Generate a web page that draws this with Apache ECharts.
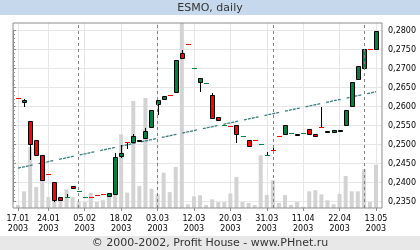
<!DOCTYPE html>
<html><head><meta charset="utf-8">
<script src="https://cdn.jsdelivr.net/npm/echarts@6/dist/echarts.min.js"></script>
<style>html,body{margin:0;padding:0;background:#fff}#c{width:420px;height:250px}</style>
</head><body><div id="c"></div>
<script>
// ---- data ----
const dates = ['17.01.2003','20.01.2003','21.01.2003','22.01.2003','23.01.2003','24.01.2003','27.01.2003','28.01.2003','29.01.2003','30.01.2003',
 '03.02.2003','05.02.2003','06.02.2003','07.02.2003','10.02.2003','12.02.2003','14.02.2003','18.02.2003','19.02.2003','20.02.2003',
 '24.02.2003','26.02.2003','28.02.2003','03.03.2003','04.03.2003','05.03.2003','06.03.2003','07.03.2003','11.03.2003','12.03.2003',
 '13.03.2003','14.03.2003','17.03.2003','18.03.2003','19.03.2003','20.03.2003','21.03.2003','24.03.2003','25.03.2003','26.03.2003',
 '27.03.2003','31.03.2003','01.04.2003','02.04.2003','03.04.2003','07.04.2003','09.04.2003','11.04.2003','14.04.2003','15.04.2003',
 '16.04.2003','17.04.2003','21.04.2003','22.04.2003','24.04.2003','28.04.2003','30.04.2003','06.05.2003','08.05.2003','13.05.2003'];
const opens  = [0.2622,0.2611,0.2562,0.2512,0.2472,0.2422,0.2401,0.2362,0.2361,0.2391,
 0.2377,0.2362,0.2362,0.2366,0.2369,0.2365,0.2371,0.2471,0.2506,0.2506,
 0.2511,0.2517,0.2545,0.2606,0.2621,0.2630,0.2639,0.2741,0.2766,0.2701,
 0.2665,0.2661,0.2630,0.2572,0.2551,0.2550,0.2551,0.2522,0.2512,0.2511,
 0.2501,0.2472,0.2485,0.2522,0.2529,0.2530,0.2528,0.2530,0.2540,0.2527,
 0.2545,0.2535,0.2532,0.2538,0.2551,0.2601,0.2672,0.2701,0.2751,0.2751];
const closes = [0.2622,0.2617,0.2501,0.2472,0.2406,0.2422,0.2355,0.2355,0.2361,0.2386,
 0.2377,0.2362,0.2362,0.2366,0.2369,0.2372,0.2467,0.2478,0.2506,0.2522,
 0.2512,0.2536,0.2590,0.2616,0.2628,0.2630,0.2722,0.2727,0.2766,0.2701,
 0.2674,0.2661,0.2571,0.2565,0.2551,0.2550,0.2528,0.2522,0.2495,0.2511,
 0.2501,0.2472,0.2485,0.2522,0.2551,0.2530,0.2529,0.2530,0.2527,0.2522,
 0.2545,0.2536,0.2538,0.2539,0.2590,0.2666,0.2707,0.2751,0.2751,0.2800];
const lows   = [0.2622,0.2599,0.2460,0.2472,0.2406,0.2422,0.2349,0.2355,0.2361,0.2386,
 0.2377,0.2362,0.2362,0.2366,0.2369,0.2365,0.2371,0.2464,0.2489,0.2506,
 0.2511,0.2517,0.2545,0.2579,0.2621,0.2630,0.2639,0.2727,0.2766,0.2701,
 0.2638,0.2661,0.2571,0.2565,0.2551,0.2550,0.2505,0.2522,0.2495,0.2511,
 0.2501,0.2472,0.2485,0.2522,0.2529,0.2530,0.2528,0.2530,0.2527,0.2522,
 0.2545,0.2535,0.2532,0.2538,0.2551,0.2601,0.2672,0.2701,0.2751,0.2751];
const highs  = [0.2622,0.2619,0.2562,0.2512,0.2472,0.2422,0.2401,0.2362,0.2369,0.2391,
 0.2377,0.2362,0.2362,0.2366,0.2369,0.2372,0.2478,0.2498,0.2506,0.2528,
 0.2512,0.2543,0.2590,0.2616,0.2628,0.2630,0.2722,0.2749,0.2766,0.2701,
 0.2674,0.2661,0.2637,0.2572,0.2551,0.2550,0.2551,0.2522,0.2512,0.2511,
 0.2501,0.2480,0.2499,0.2522,0.2551,0.2530,0.2529,0.2530,0.2540,0.2527,
 0.2599,0.2536,0.2538,0.2539,0.2590,0.2666,0.2707,0.2751,0.2751,0.2800];
// colour of the flat (open = close) days: r = down, g = up
const dashColors = ['r','','','','','r','','','g','',
 'g','g','r','r','r','','','','r','',
 '','','','','','r','','','r','g',
 '','g','','','g','r','','g','','r',
 'g','g','r','r','','g','','g','','',
 'r','','','','','','','','r',''];
// volume, in percent of the plot height
const volumes = [1.6,9.0,33.0,11.4,15.0,5.9,3.6,5.0,10.1,5.9,
 3.2,3.2,8.1,3.2,4.2,6.9,15.0,39.8,8.3,57.8,
 11.9,59.5,10.4,7.4,19.1,8.6,22.2,100,2.0,6.3,
 6.9,1.6,4.7,3.2,3.2,7.9,16.8,3.2,2.7,1.6,
 28.5,7.0,15.0,2.7,7.0,1.6,3.2,0.7,9.0,9.6,
 7.4,4.2,2.0,7.6,17.3,9.0,9.0,20.9,3.2,23.4];
const labelIndices = [0,5,11,17,23,29,35,41,47,53,59];
const monthStarts = [10,23,42,57];
const trendStart = 0.2438, trendEnd = 0.2639;
const priceMin = 0.2333, priceMax = 0.2820;
const yTickMin = 0.235, yTickMax = 0.280, yTickStep = 0.005;

// ---- layout ----
const W = 420, H = 250, gTop = 23, gBottomPx = 208, gLeft = 13, gRightPx = 382;
const plotH = gBottomPx - gTop;
const ppu = plotH / (priceMax - priceMin);
const tTop = gTop + (priceMax - yTickMax) * ppu;
const tBottom = H - (gTop + (priceMax - yTickMin) * ppu);

const GREEN = '#008040', RED = '#ff0000';
const candleData = dates.map((d, i) => [i, opens[i], closes[i], lows[i], highs[i], dashColors[i]]);
const labelSet = new Set(labelIndices);
const showAt = (i) => labelSet.has(i);
const FONT = '"DejaVu Sans", Verdana, sans-serif';

function renderCandle(params, api) {
  const i = api.value(0);
  const o = api.value(1), c = api.value(2), l = api.value(3), h = api.value(4);
  const dc = candleData[params.dataIndex][5];
  const pO = api.coord([i, o]), pC = api.coord([i, c]);
  const pL = api.coord([i, l]), pH = api.coord([i, h]);
  const cx = Math.round(pO[0]);
  const children = [];
  if (h > l) {
    children.push({type: 'line', shape: {x1: cx + 0.5, y1: Math.round(pH[1]), x2: cx + 0.5, y2: Math.round(pL[1])},
      style: {stroke: '#000', lineWidth: 1}});
  }
  if (o === c) {
    const y = Math.round(pO[1]) + 0.5;
    children.push({type: 'line', shape: {x1: cx - 2, y1: y, x2: cx + 3, y2: y},
      style: {stroke: dc === 'g' ? GREEN : RED, lineWidth: 1}});
  } else {
    const yT = Math.round(Math.min(pO[1], pC[1])) + 0.5;
    let yB = Math.round(Math.max(pO[1], pC[1])) + 0.5;
    if (yB - yT < 1) yB = yT + 1;
    children.push({type: 'rect', shape: {x: cx - 2 + 0.5, y: yT, width: 4, height: yB - yT},
      style: {fill: c > o ? GREEN : RED, stroke: '#000', lineWidth: 1}});
  }
  return {type: 'group', children};
}

const chart = echarts.init(document.getElementById('c'), null, {renderer: 'canvas'});
chart.setOption({
  animation: false,
  backgroundColor: '#fff',
  grid: [
    {left: gLeft, right: W - gRightPx, top: gTop, bottom: H - gBottomPx, show: true, borderColor: '#8c8c8c', borderWidth: 1, backgroundColor: 'transparent', z: 5},
    {left: gLeft, right: W - gRightPx, top: tTop, bottom: tBottom},
    {left: 18, right: W - 376, top: gTop, bottom: H - gBottomPx}
  ],
  xAxis: [
    {gridIndex: 0, type: 'value', show: false},
    {gridIndex: 1, type: 'value', show: false},
    {gridIndex: 2, type: 'category', data: dates, boundaryGap: false,
      axisLine: {show: false},
      axisTick: {show: true, interval: (i) => showAt(i), length: 3, lineStyle: {color: '#8c8c8c'}},
      axisLabel: {interval: (i) => showAt(i), margin: 6, fontFamily: FONT, fontSize: 8, lineHeight: 10, color: '#000',
        formatter: (v) => v.slice(0, 5) + '\n' + v.slice(6)},
      splitLine: {show: true, interval: (i) => showAt(i), lineStyle: {color: '#e6e6e6', width: 1}}}
  ],
  yAxis: [
    {gridIndex: 0, type: 'value', show: false, min: priceMin, max: priceMax},
    {gridIndex: 1, type: 'value', position: 'right', min: yTickMin, max: yTickMax, interval: yTickStep,
      axisLine: {show: true, lineStyle: {color: '#8c8c8c'}},
      axisTick: {show: true, length: 3, lineStyle: {color: '#8c8c8c'}},
      minorTick: {show: true, splitNumber: 5, length: 2, lineStyle: {color: '#9a9a9a'}},
      splitLine: {show: true, lineStyle: {color: '#e6e6e6', width: 1}},
      axisLabel: {margin: 6, fontFamily: FONT, fontSize: 8, color: '#000', formatter: (v) => v.toFixed(4).replace('.', ',')}},
    {gridIndex: 2, type: 'value', show: false, min: priceMin, max: priceMax},
    {gridIndex: 2, type: 'value', show: false, min: 0, max: 100}
  ],
  graphic: [
    {type: 'rect', left: 0, top: 0, shape: {width: W, height: 15}, style: {fill: '#c6d9ec'}, silent: true},
    {type: 'text', x: W / 2, y: 8, style: {text: 'ESMO, daily', font: '11px ' + FONT, fill: '#333', align: 'center', verticalAlign: 'middle'}, silent: true},
    {type: 'rect', left: 0, top: 236, shape: {width: W, height: 14}, style: {fill: '#e8e8e8'}, silent: true},
    {type: 'text', x: W / 2, y: 243, style: {text: '© 2000-2002, Profit House - www.PHnet.ru', font: '11px ' + FONT, fill: '#333', align: 'center', verticalAlign: 'middle'}, silent: true}
  ],
  series: [
    {type: 'bar', name: 'volume', xAxisIndex: 2, yAxisIndex: 3, data: volumes, barWidth: 4, clip: false, z: 1,
      itemStyle: {color: '#d3d3d3'}, silent: true,
      markLine: {silent: true, symbol: 'none', label: {show: false},
        lineStyle: {color: '#808080', width: 1, type: [3, 3]},
        data: monthStarts.map((m) => ({xAxis: m}))}},
    {type: 'line', name: 'trend', xAxisIndex: 2, yAxisIndex: 2, data: [[0, trendStart], [dates.length - 1, trendEnd]],
      showSymbol: false, symbol: 'none', z: 2, silent: true,
      lineStyle: {color: '#3a7d7d', width: 1.3, type: [3, 1, 3, 1, 3, 1, 3, 6]}},
    {type: 'custom', name: 'price', xAxisIndex: 2, yAxisIndex: 2, data: candleData, z: 3, silent: true,
      encode: {x: 0, y: [1, 2, 3, 4]}, renderItem: renderCandle}
  ]
});
</script></body></html>
